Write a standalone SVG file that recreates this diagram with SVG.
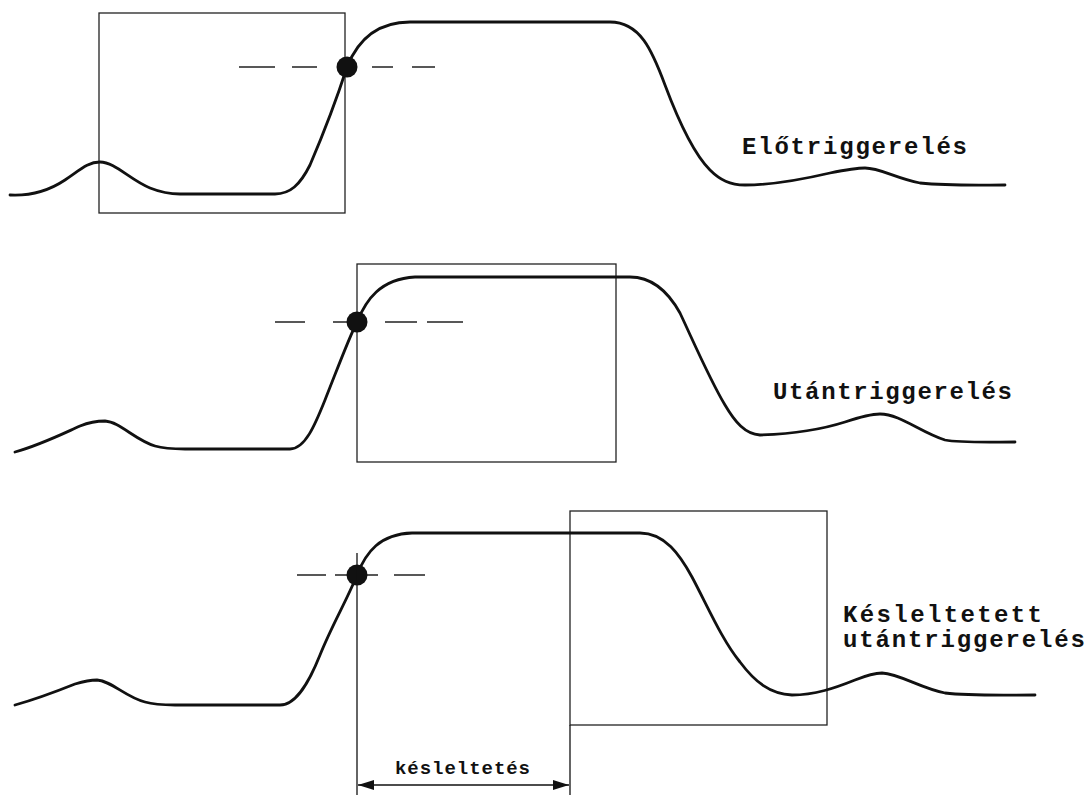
<svg xmlns="http://www.w3.org/2000/svg" width="1085" height="796" viewBox="0 0 1085 796">
  <defs>
    <style>
      .wave { fill: none; stroke: #111; stroke-width: 2.8; stroke-linecap: round; stroke-linejoin: round; }
      .frame { fill: none; stroke: #222; stroke-width: 1.3; }
      .dash { fill: none; stroke: #222; stroke-width: 1.3; }
      .trig { fill: #111; }
      .label { font-family: "Liberation Mono", "Courier New", monospace; font-weight: bold; font-size: 24px; fill: #111; }
      .small { font-family: "Liberation Mono", "Courier New", monospace; font-weight: bold; font-size: 19px; fill: #111; }
      .dim { fill: none; stroke: #111; stroke-width: 1.3; }
    </style>
    <marker id="arrowEnd" viewBox="0 0 16 10" refX="16" refY="5" markerWidth="16" markerHeight="10" markerUnits="userSpaceOnUse" orient="auto">
      <path d="M0,0 L16,5 L0,10 Z" fill="#111"/>
    </marker>
    <marker id="arrowStart" viewBox="0 0 16 10" refX="0" refY="5" markerWidth="16" markerHeight="10" markerUnits="userSpaceOnUse" orient="auto">
      <path d="M16,0 L0,5 L16,10 Z" fill="#111"/>
    </marker>
  </defs>

  <rect width="1085" height="796" fill="#fff"/>

  <!-- Pre-trigger: capture window ends at the trigger point -->
  <g id="pretrigger">
    <rect class="frame" x="99" y="13" width="246" height="200"/>
    <path class="wave" d="M10,195 C30,196 50,190 65,180 C80,170 88,162 100,162 C115,162 130,180 150,188 C160,192 170,194 180,194 L275,194 C290,194 300,185 310,165 C325,130 338,95 347,67 C357,42 375,22 410,22 L610,22 C640,22 652,50 665,85 C680,125 695,155 710,170 C720,180 730,185 745,185 C770,185 800,180 830,173 C845,170 855,168 865,168 C880,168 895,178 920,183 C950,186 980,185 1005,185"/>
    <path class="dash" d="M239,67 H275 M292,67 H317 M372,67 H393 M412,67 H435"/>
    <circle class="trig" cx="347" cy="67" r="10.5"/>
    <text class="label" x="742" y="154" textLength="225" lengthAdjust="spacing">Előtriggerelés</text>
  </g>

  <!-- Post-trigger: capture window starts at the trigger point -->
  <g id="posttrigger">
    <rect class="frame" x="357" y="264" width="259" height="198"/>
    <path class="wave" d="M15,452 C40,445 60,435 80,426 C90,422 95,421 105,421 C120,422 135,440 155,446 C165,449 175,449 185,449 L290,449 C305,449 315,425 325,400 C337,370 348,340 357,322 C366,300 380,279 415,277 L630,277 C655,277 670,295 680,313 C695,345 710,380 725,405 C735,422 745,434 760,435 C790,434 820,430 845,422 C860,417 870,414 880,414 C900,414 920,432 945,440 C960,443 990,442 1015,442"/>
    <path class="dash" d="M275,322 H305 M333,322 H350 M385,322 H417 M427,322 H463"/>
    <circle class="trig" cx="357" cy="322" r="10.5"/>
    <text class="label" x="773" y="399" textLength="239" lengthAdjust="spacing">Utántriggerelés</text>
  </g>

  <!-- Delayed post-trigger: capture window opens after a delay -->
  <g id="delayed">
    <rect class="frame" x="570" y="511" width="257" height="214"/>
    <path class="wave" d="M15,705 C40,698 60,690 75,684 C85,681 90,680 97,680 C112,681 125,697 145,702 C155,705 165,705 175,705 L280,705 C297,705 310,680 320,655 C332,625 347,600 357,575 C366,552 380,534 412,533 L640,533 C665,533 680,555 692,577 C708,607 722,640 740,662 C755,682 770,694 792,695 C815,695 835,688 855,680 C865,676 873,673 882,673 C900,674 920,688 945,693 C970,696 1000,695 1035,695"/>
    <path class="dash" d="M297,575 H326 M335,575 H350 M365,575 H378 M394,575 H425"/>
    <circle class="trig" cx="357" cy="575" r="10.5"/>
    <text class="label" x="843" y="622" textLength="199" lengthAdjust="spacing">Késleltetett</text>
    <text class="label" x="843" y="647" textLength="242" lengthAdjust="spacing">utántriggerelés</text>
  </g>

  <!-- Delay dimension between trigger point and window start -->
  <g id="connectors">
    <path class="dim" d="M357,553 V795"/>
    <path class="dim" d="M570,725 V795"/>
    <path class="dim" d="M358,785 H569" marker-start="url(#arrowStart)" marker-end="url(#arrowEnd)"/>
    <text class="small" x="395" y="774" textLength="135" lengthAdjust="spacing">késleltetés</text>
  </g>
</svg>
